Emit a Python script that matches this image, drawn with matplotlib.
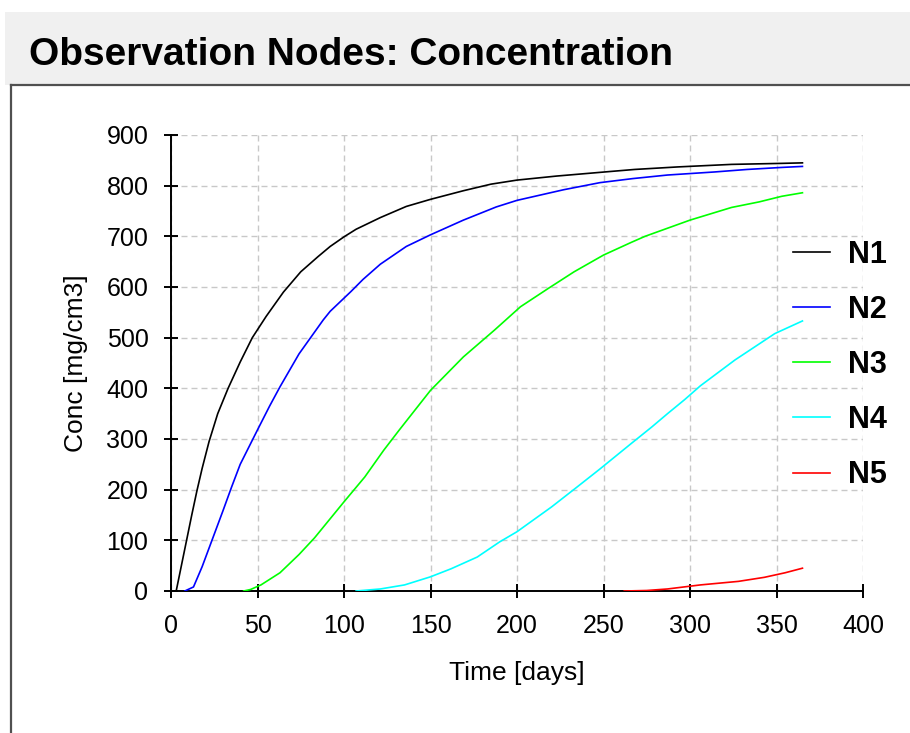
import matplotlib
matplotlib.use("Agg")
import matplotlib.pyplot as plt
from matplotlib.patches import Rectangle
from matplotlib.lines import Line2D

plt.rcParams['font.family'] = ['Liberation Sans', 'DejaVu Sans']

# ---- data ----
series_names = ["N1", "N2", "N3", "N4", "N5"]
series_colors = ["#000000", "#0000ff", "#00ff00", "#00ffff", "#ff0000"]

t_n1 = [0, 3, 6, 9, 12, 15, 18, 22, 27, 33, 40, 47, 55, 65, 75, 85, 92, 100, 107,
        121, 136, 150, 169, 185, 200, 223, 254, 268, 293, 324, 353, 365]
c_n1 = [0, 0, 50, 100, 150, 198, 242, 295, 350, 400, 452, 500, 542, 590, 630, 660,
        680, 699, 714, 737, 759, 773, 790, 803, 811, 819, 828, 832, 837, 842, 844, 845]

t_n2 = [8, 13, 18, 24, 30, 35, 40, 50, 57, 63, 74, 88, 92, 104, 111, 121, 136, 150,
        169, 188, 200, 227, 248, 267, 287, 314, 333, 353, 365]
c_n2 = [0, 8, 48, 103, 158, 205, 250, 318, 365, 403, 468, 535, 552, 591, 615, 645,
        680, 703, 732, 758, 771, 792, 806, 814, 821, 827, 832, 836, 838]

t_n3 = [42, 46, 52, 63, 74, 83, 100, 112, 123, 132, 150, 169, 187, 202, 218, 233,
        250, 266, 274, 300, 324, 340, 353, 365]
c_n3 = [0, 3, 12, 36, 72, 105, 176, 225, 278, 318, 396, 462, 515, 561, 597, 630,
        663, 688, 700, 732, 757, 768, 779, 786]

t_n4 = [107, 121, 135, 150, 162, 177, 190, 200, 220, 235, 248, 266, 278, 287, 297,
        306, 326, 349, 365]
c_n4 = [0, 4, 12, 28, 44, 67, 97, 117, 166, 206, 241, 291, 324, 350, 378, 405,
        456, 508, 533]

t_n5 = [262, 275, 287, 306, 328, 343, 355, 365]
c_n5 = [0, 1, 4, 12, 19, 27, 36, 45]

times = [t_n1, t_n2, t_n3, t_n4, t_n5]
concs = [c_n1, c_n2, c_n3, c_n4, c_n5]

x_ticks = [0, 50, 100, 150, 200, 250, 300, 350, 400]
y_ticks = [0, 100, 200, 300, 400, 500, 600, 700, 800, 900]

# ---- figure ----
W, H = 910, 733
fig = plt.figure(figsize=(W / 100, H / 100), dpi=100, facecolor="white")

def fx(px):
    return px / W

def fy(py):
    return 1 - py / H

# title bar
fig.patches.append(Rectangle((fx(5), fy(85)), 1 - fx(5), fy(12) - fy(85),
                             transform=fig.transFigure, facecolor="#f0f0f0",
                             edgecolor="none", zorder=0))
fig.text(fx(29), fy(65), "Observation Nodes: Concentration", fontsize=28,
         fontweight="bold", ha="left", va="baseline", color="black")
# panel border (top and left)
fig.lines.append(Line2D([fx(11), 1], [fy(85), fy(85)], transform=fig.transFigure,
                        color="#505050", lw=1.6))
fig.lines.append(Line2D([fx(11), fx(11)], [fy(85), 0], transform=fig.transFigure,
                        color="#505050", lw=1.6))

ax = fig.add_axes([fx(171), fy(591), fx(863) - fx(171), fy(135) - fy(591)])
ax.set_facecolor("white")

for name, col, t, c in zip(series_names, series_colors, times, concs):
    ax.plot(t, c, color=col, lw=1.2, label=name, zorder=3)

ax.set_xlim(0, 400)
ax.set_ylim(0, 900)
ax.set_xticks(x_ticks)
ax.set_yticks(y_ticks)

for s in ["top", "right"]:
    ax.spines[s].set_visible(False)
for s in ["left", "bottom"]:
    ax.spines[s].set_linewidth(1.4)
    ax.spines[s].set_color("black")

ax.tick_params(direction="inout", length=10.5, width=1.4, colors="black",
               labelsize=18, pad=11)
ax.grid(True, color="#c8c8c8", lw=1.0, linestyle=(0, (4.3, 2.9)), zorder=1)
ax.set_axisbelow(True)

ax.set_xlabel("Time [days]", fontsize=19, labelpad=17)
ax.set_ylabel("Conc [mg/cm3]", fontsize=19, labelpad=13)

leg = ax.legend(loc="upper left", bbox_to_anchor=(fx(793), fy(240)),
                bbox_transform=fig.transFigure, frameon=False,
                prop={"weight": "bold", "size": 22}, handlelength=1.2,
                handletextpad=0.6, labelspacing=0.82, borderpad=0,
                borderaxespad=0)
for h in leg.get_lines():
    h.set_linewidth(1.2)

fig.savefig("out.png", dpi=100, facecolor="white")
